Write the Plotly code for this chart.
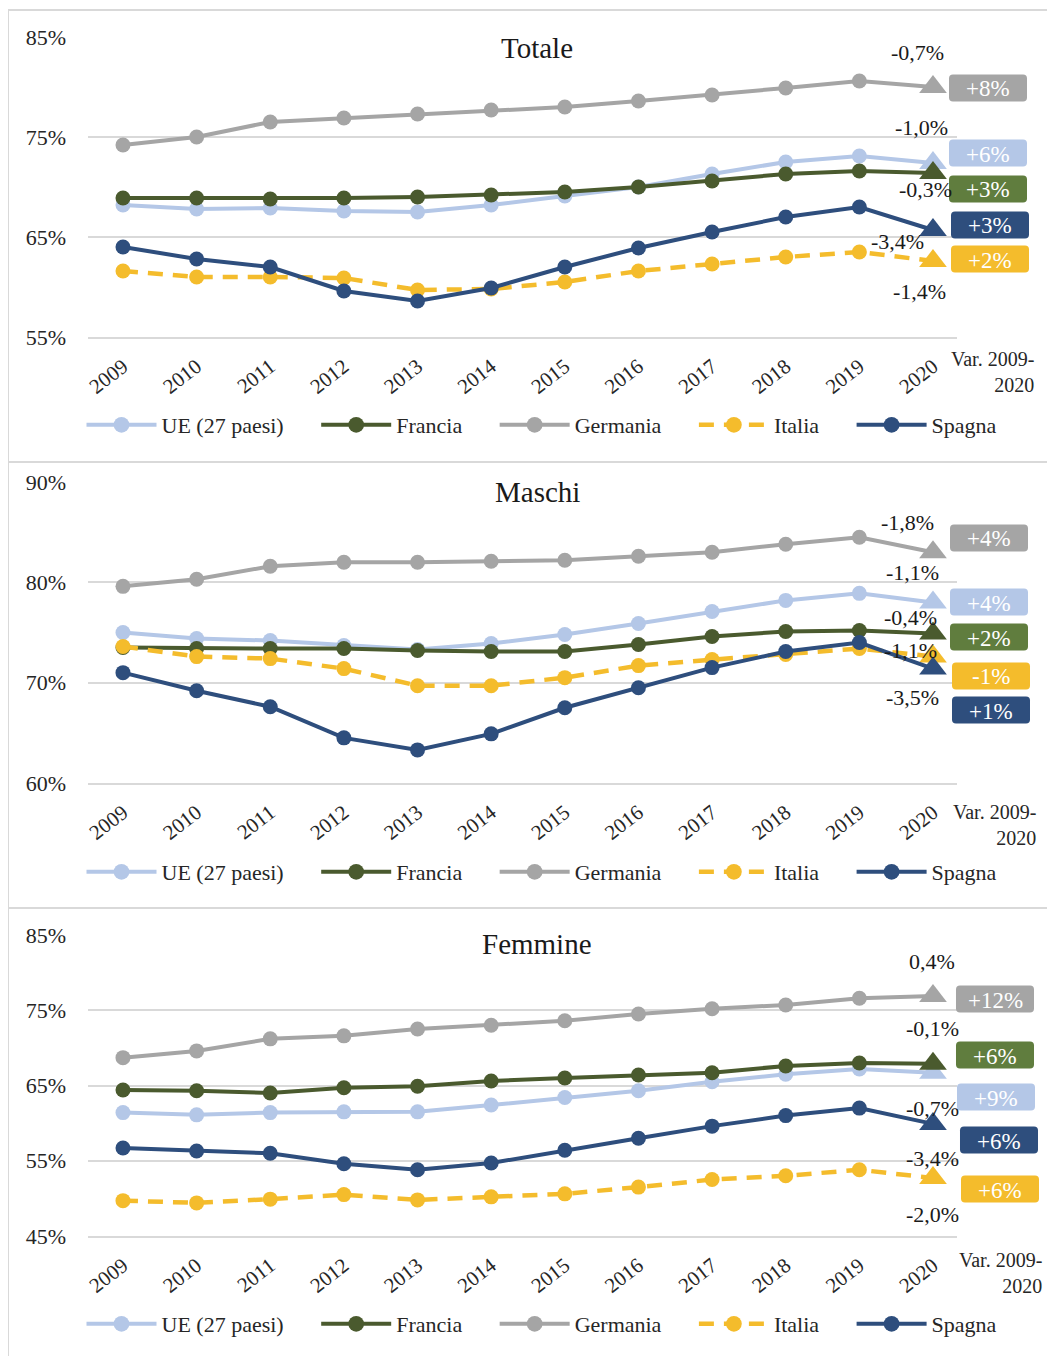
import plotly.graph_objects as go

# ---------------- DATA ----------------
years = [2009, 2010, 2011, 2012, 2013, 2014, 2015, 2016, 2017, 2018, 2019, 2020]
series_names = ["UE (27 paesi)", "Francia", "Germania", "Italia", "Spagna"]

tot_ue = [68.2, 67.8, 67.9, 67.6, 67.5, 68.2, 69.1, 70.0, 71.3, 72.5, 73.1, 72.4]
tot_fr = [68.9, 68.9, 68.8, 68.9, 69.0, 69.2, 69.5, 70.0, 70.6, 71.3, 71.6, 71.4]
tot_de = [74.2, 75.0, 76.5, 76.9, 77.3, 77.7, 78.0, 78.6, 79.2, 79.9, 80.6, 80.0]
tot_it = [61.6, 61.0, 61.0, 60.9, 59.7, 59.8, 60.5, 61.6, 62.3, 63.0, 63.5, 62.6]
tot_es = [64.0, 62.8, 62.0, 59.6, 58.6, 59.9, 62.0, 63.9, 65.5, 67.0, 68.0, 65.7]
tot_chg = ["-1,0%", "-0,3%", "-0,7%", "-1,4%", "-3,4%"]
tot_var = ["+6%", "+3%", "+8%", "+2%", "+3%"]

m_ue = [75.0, 74.4, 74.2, 73.7, 73.3, 73.9, 74.8, 75.9, 77.1, 78.2, 78.9, 78.0]
m_fr = [73.5, 73.4, 73.4, 73.4, 73.2, 73.1, 73.1, 73.8, 74.6, 75.1, 75.2, 74.9]
m_de = [79.6, 80.3, 81.6, 82.0, 82.0, 82.1, 82.2, 82.6, 83.0, 83.8, 84.5, 83.0]
m_it = [73.6, 72.6, 72.4, 71.4, 69.7, 69.7, 70.5, 71.7, 72.3, 72.8, 73.4, 72.6]
m_es = [71.0, 69.2, 67.6, 64.5, 63.3, 64.9, 67.5, 69.5, 71.5, 73.1, 74.0, 71.4]
m_chg = ["-1,1%", "-0,4%", "-1,8%", "-1,1%", "-3,5%"]
m_var = ["+4%", "+2%", "+4%", "-1%", "+1%"]

f_ue = [61.4, 61.1, 61.4, 61.5, 61.5, 62.4, 63.4, 64.3, 65.5, 66.5, 67.2, 66.7]
f_fr = [64.4, 64.3, 64.0, 64.7, 64.9, 65.6, 66.0, 66.4, 66.7, 67.6, 68.0, 67.9]
f_de = [68.7, 69.6, 71.2, 71.6, 72.5, 73.0, 73.6, 74.5, 75.2, 75.7, 76.6, 76.9]
f_it = [49.7, 49.4, 49.9, 50.5, 49.8, 50.2, 50.6, 51.5, 52.5, 53.0, 53.8, 52.7]
f_es = [56.7, 56.3, 56.0, 54.6, 53.8, 54.7, 56.4, 58.0, 59.6, 61.0, 62.0, 59.9]
f_chg = ["-0,7%", "-0,1%", "0,4%", "-2,0%", "-3,4%"]
f_var = ["+9%", "+6%", "+12%", "+6%", "+6%"]

titles = ["Totale", "Maschi", "Femmine"]
y_ticks = [[55, 65, 75, 85], [60, 70, 80, 90], [45, 55, 65, 75, 85]]
var_label = "Var. 2009-<br>2020"

# ---------------- STYLE ----------------
# positions below are given in screen pixels of the target and converted to
# paper coordinates (the page places the figure at an offset of OX, OY).
OX, OY = 8, 8
W, H = 1047, 1348
FONT = "Liberation Serif"
line_colors = ["#B4C7E7", "#4A5A2E", "#A5A5A5", "#F4BC2C", "#2E4E7D"]
badge_colors = ["#B4C7E7", "#607D3E", "#A5A5A5", "#F4BC2C", "#2E4E7D"]
GRID = "#D9D9D9"
TXT = "#262626"
PAD = "\u00a0" * 5
BW, BH, BR = 78, 27, 4


def px(x):
    return (x - OX) / W


def py(y):
    return 1 - (y - OY) / H


def rounded_rect(cx, cy, w, h, r):
    x0, x1, y0, y1 = cx - w / 2, cx + w / 2, cy - h / 2, cy + h / 2
    pts = [
        ("M", [(x0 + r, y0)]), ("L", [(x1 - r, y0)]), ("Q", [(x1, y0), (x1, y0 + r)]),
        ("L", [(x1, y1 - r)]), ("Q", [(x1, y1), (x1 - r, y1)]), ("L", [(x0 + r, y1)]),
        ("Q", [(x0, y1), (x0, y1 - r)]), ("L", [(x0, y0 + r)]), ("Q", [(x0, y0), (x0 + r, y0)]),
    ]
    s = ""
    for cmd, coords in pts:
        s += cmd + " " + " ".join(f"{px(a):.5f},{py(b):.5f}" for a, b in coords) + " "
    return s + "Z"


panels = [
    dict(data=[tot_ue, tot_fr, tot_de, tot_it, tot_es], chg=tot_chg, var=tot_var,
         ytop=37, ybot=337, frame=(10, 462), title_y=48, legend_y=425, var_y=372, var_x=992,
         chg_pos=[(921, 128), (925, 190), (917, 53), (919, 291), (897, 241)],
         badge_pos=[(988, 153), (988, 189), (988, 88), (990, 259), (990, 225)]),
    dict(data=[m_ue, m_fr, m_de, m_it, m_es], chg=m_chg, var=m_var,
         ytop=482, ybot=783, frame=(462, 908), title_y=492, legend_y=872, var_y=825, var_x=994,
         chg_pos=[(912, 573), (910, 617), (907, 523), (910, 650), (912, 697)],
         badge_pos=[(989, 602), (989, 637), (989, 538), (991, 676), (991, 710)]),
    dict(data=[f_ue, f_fr, f_de, f_it, f_es], chg=f_chg, var=f_var,
         ytop=935, ybot=1236, frame=(908, 1380), title_y=944, legend_y=1324, var_y=1273, var_x=1000,
         chg_pos=[(932, 1108), (932, 1028), (932, 962), (932, 1214), (932, 1158)],
         badge_pos=[(996, 1097), (995, 1055), (995, 999), (1000, 1189), (999, 1140)]),
]

fig = go.Figure()
annotations = []
shapes = []

for i, p in enumerate(panels):
    n = i + 1
    xname = "x" if n == 1 else f"x{n}"
    yname = "y" if n == 1 else f"y{n}"
    lname = "legend" if n == 1 else f"legend{n}"
    for k, name in enumerate(series_names):
        vals = p["data"][k]
        is_it = name == "Italia"
        fig.add_trace(go.Scatter(
            x=years, y=vals, name=name + (PAD if k < len(series_names) - 1 else ""),
            mode="lines+markers",
            xaxis=xname, yaxis=yname, legend=lname, opacity=1,
            line=dict(color=line_colors[k], width=4.5 if is_it else 4,
                      dash="15px,10px" if is_it else "solid"),
            marker=dict(color=line_colors[k], opacity=1, line=dict(width=0),
                        symbol=["circle"] * (len(years) - 1) + ["triangle-up"],
                        size=[15] * (len(years) - 1) + [24]),
            cliponaxis=False,
        ))
    yt = y_ticks[i]
    fig.update_layout({
        ("xaxis" if n == 1 else f"xaxis{n}"): dict(
            domain=[px(88), px(957)], anchor=yname, automargin=False,
            range=[2008.525, 2020.326], tickvals=years,
            ticktext=[str(v) for v in years], tickangle=-38,
            showgrid=False, zeroline=False, showline=True, mirror=False,
            linecolor=GRID, linewidth=2, ticks="", ticklabelstandoff=7,
            tickfont=dict(family=FONT, size=21, color=TXT),
        ),
        ("yaxis" if n == 1 else f"yaxis{n}"): dict(
            domain=[py(p["ybot"]), py(p["ytop"])], anchor=xname, automargin=False,
            range=[yt[0], yt[-1]], tickvals=yt, ticktext=[f"{v}%" for v in yt],
            showgrid=True, gridcolor=GRID, gridwidth=2, zeroline=False,
            showline=False, ticks="", ticklabelstandoff=21,
            tickfont=dict(family=FONT, size=22, color=TXT),
        ),
        lname: dict(
            orientation="h", x=px(542), xanchor="center", y=py(p["legend_y"]),
            yanchor="middle", font=dict(family=FONT, size=22, color=TXT),
            bgcolor="rgba(0,0,0,0)", borderwidth=0, itemwidth=70, tracegroupgap=0,
        ),
    })
    annotations.append(dict(text=titles[i], x=px(537), y=py(p["title_y"]), xref="paper",
                            yref="paper", showarrow=False, xanchor="center", yanchor="middle",
                            font=dict(family=FONT, size=29, color="#1a1a1a")))
    annotations.append(dict(text=var_label, x=px(p["var_x"]), y=py(p["var_y"]), xref="paper",
                            yref="paper", showarrow=False, xanchor="center", yanchor="middle",
                            align="right", font=dict(family=FONT, size=20, color=TXT)))
    for k in range(len(series_names)):
        cx, cy = p["chg_pos"][k]
        annotations.append(dict(text=p["chg"][k], x=px(cx), y=py(cy), xref="paper", yref="paper",
                                showarrow=False, xanchor="center", yanchor="middle",
                                font=dict(family=FONT, size=22, color="#1a1a1a")))
    for k in range(len(series_names)):
        bx, by = p["badge_pos"][k]
        shapes.append(dict(type="path", xref="paper", yref="paper",
                           path=rounded_rect(bx, by, BW, BH, BR),
                           fillcolor=badge_colors[k], line=dict(width=0), layer="above"))
        annotations.append(dict(text=p["var"][k], x=px(bx), y=py(by + 1), xref="paper",
                                yref="paper", showarrow=False, xanchor="center",
                                yanchor="middle",
                                font=dict(family=FONT, size=23, color="white")))
    f0, f1 = p["frame"]
    shapes.append(dict(type="rect", xref="paper", yref="paper", x0=px(8), x1=px(1054),
                       y0=py(f1), y1=py(f0), line=dict(color=GRID, width=2),
                       fillcolor="rgba(0,0,0,0)", layer="below"))

fig.update_layout(
    template="none",
    width=W, height=H, margin=dict(l=0, r=0, t=0, b=0, autoexpand=False),
    paper_bgcolor="white", plot_bgcolor="white",
    annotations=annotations, shapes=shapes, showlegend=True,
    font=dict(family=FONT),
)

fig.write_html("out.html")
